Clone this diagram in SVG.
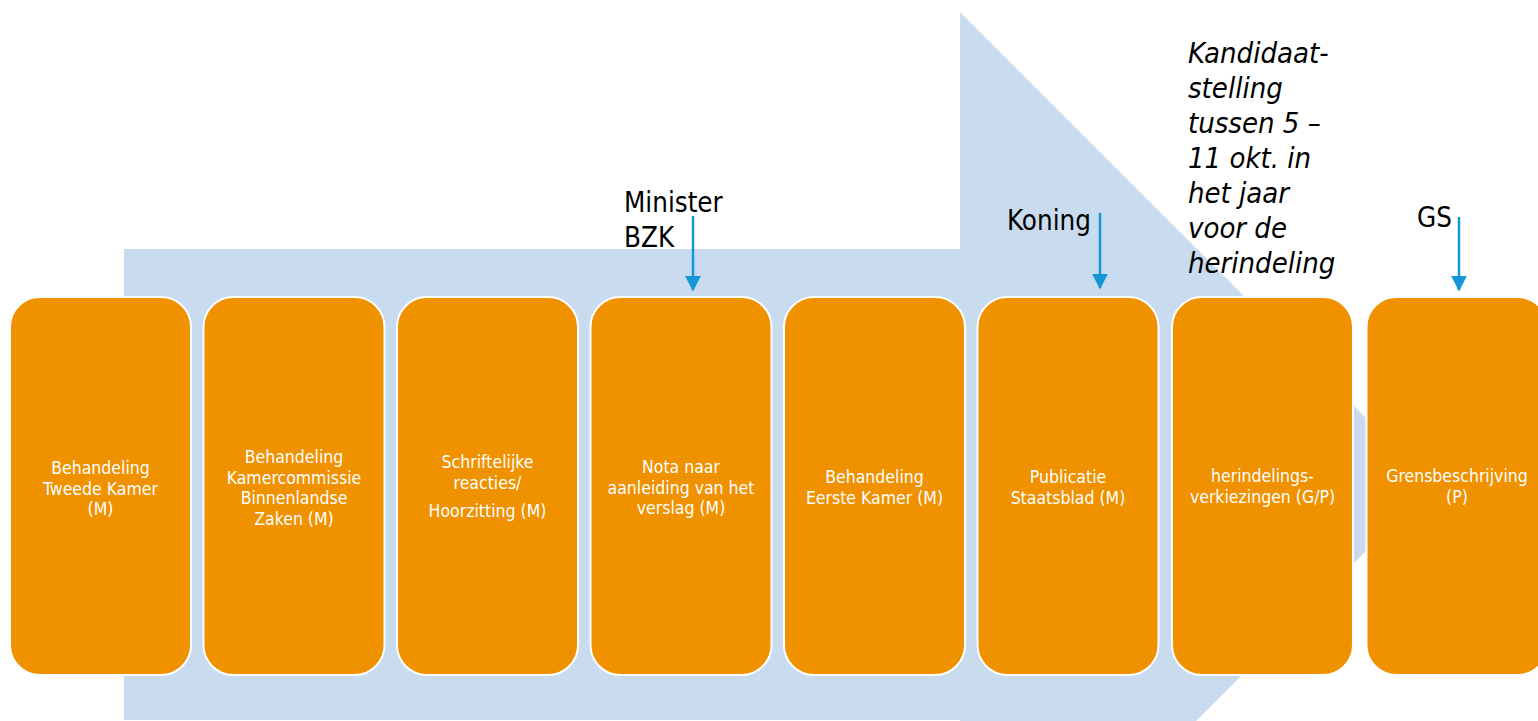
<svg xmlns="http://www.w3.org/2000/svg" width="1538" height="721" viewBox="0 0 1538 721">
<defs>
<style>
.box{fill:#F09100;stroke:#FFFFFF;stroke-width:2}
.bt{font-family:"DejaVu Sans Condensed","DejaVu Sans",sans-serif;font-size:17.5px;fill:#FFFFFF;text-anchor:middle}
.lbl{font-family:"DejaVu Sans Condensed","DejaVu Sans",sans-serif;font-size:27.5px;fill:#000000}
.ital{font-family:"DejaVu Sans Condensed","DejaVu Sans",sans-serif;font-size:29px;font-style:italic;fill:#000000}
.conn{stroke:#1496D8;stroke-width:2.5;fill:none;marker-end:url(#ah)}
</style>
<marker id="ah" viewBox="0 0 10 10" refX="9" refY="5" markerUnits="userSpaceOnUse" markerWidth="16" markerHeight="16" orient="auto">
<path d="M0,0 L10,5 L0,10 Z" fill="#1496D8"/>
</marker>
</defs>
<rect width="1538" height="721" fill="#FFFFFF"/>
<polygon id="bg-arrow" points="124,249 960,249 960,12 1432.5,484.5 960,957 960,720 124,720" fill="#C9DBEF"/>

<g id="n1"><rect class="box" x="10" y="297" width="181" height="378" rx="30"/>
<text class="bt"><tspan x="100.5" y="474">Behandeling</tspan><tspan x="100.5" y="494.5">Tweede Kamer</tspan><tspan x="100.5" y="515">(M)</tspan></text></g>
<g id="n2"><rect class="box" x="203.5" y="297" width="181" height="378" rx="30"/>
<text class="bt"><tspan x="294" y="463">Behandeling</tspan><tspan x="294" y="483.5">Kamercommissie</tspan><tspan x="294" y="504">Binnenlandse</tspan><tspan x="294" y="524.5">Zaken (M)</tspan></text></g>
<g id="n3"><rect class="box" x="397" y="297" width="181" height="378" rx="30"/>
<text class="bt"><tspan x="487.5" y="468">Schriftelijke</tspan><tspan x="487.5" y="488.5">reacties/</tspan><tspan x="487.5" y="517">Hoorzitting (M)</tspan></text></g>
<g id="n4"><rect class="box" x="590.5" y="297" width="181" height="378" rx="30"/>
<text class="bt"><tspan x="681" y="473">Nota naar</tspan><tspan x="681" y="493.5">aanleiding van het</tspan><tspan x="681" y="514">verslag (M)</tspan></text></g>
<g id="n5"><rect class="box" x="784" y="297" width="181" height="378" rx="30"/>
<text class="bt"><tspan x="874.5" y="483">Behandeling</tspan><tspan x="874.5" y="503.5">Eerste Kamer (M)</tspan></text></g>
<g id="n6"><rect class="box" x="977.5" y="297" width="181" height="378" rx="30"/>
<text class="bt"><tspan x="1068" y="483">Publicatie</tspan><tspan x="1068" y="503.5">Staatsblad (M)</tspan></text></g>
<g id="n7"><rect class="box" x="1172" y="297" width="181" height="378" rx="30"/>
<text class="bt"><tspan x="1262.5" y="482">herindelings-</tspan><tspan x="1262.5" y="502.5">verkiezingen (G/P)</tspan></text></g>
<g id="n8"><rect class="box" x="1366.5" y="297" width="181" height="378" rx="30"/>
<text class="bt"><tspan x="1457" y="482">Grensbeschrijving</tspan><tspan x="1457" y="502.5">(P)</tspan></text></g>

<g id="lbl-minister"><text class="lbl"><tspan x="624" y="212">Minister</tspan><tspan x="624" y="247">BZK</tspan></text></g>
<g id="lbl-koning"><text class="lbl" x="1007" y="230">Koning</text></g>
<g id="lbl-gs"><text class="lbl" x="1417" y="227">GS</text></g>
<g id="lbl-kandidaat"><text class="ital"><tspan x="1188" y="63">Kandidaat-</tspan><tspan x="1188" y="98">stelling</tspan><tspan x="1188" y="133">tussen 5 –</tspan><tspan x="1188" y="168">11 okt. in</tspan><tspan x="1188" y="203">het jaar</tspan><tspan x="1188" y="238">voor de</tspan><tspan x="1188" y="273">herindeling</tspan></text></g>

<g id="connectors">
<line class="conn" x1="693" y1="216" x2="693" y2="290"/>
<line class="conn" x1="1100" y1="213" x2="1100" y2="288"/>
<line class="conn" x1="1459" y1="217" x2="1459" y2="290"/>
</g>
</svg>
